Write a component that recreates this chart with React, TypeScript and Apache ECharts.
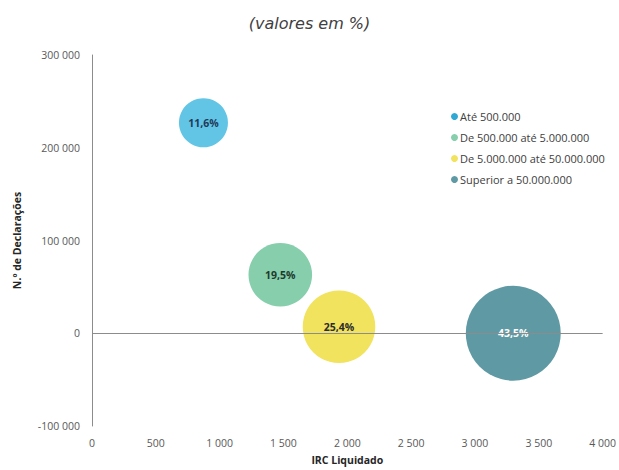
import React, { useEffect, useRef } from "react";
import * as echarts from "echarts";

const seriesNames = [
  "Até 500.000",
  "De 500.000 até 5.000.000",
  "De 5.000.000 até 50.000.000",
  "Superior a 50.000.000",
];
const ircLiquidado = [873, 1475, 1935, 3300];
const nDeclaracoes = [227000, 63000, 7000, 0];
const shares = [11.6, 19.5, 25.4, 43.5];
const bubbleColors = ["#62C5E6", "#86CEAC", "#F1E35E", "#5F9AA4"];
const legendColors = ["#2FA9D4", "#86CEAC", "#F1E35E", "#5F9AA4"];
const labelColors = ["#1F3A5A", "#1E3A2C", "#2B2B2B", "#FFFFFF"];

const fmtNum = (v: number) =>
  String(v).replace(/\B(?=(\d{3})+(?!\d))/g, " ");

export default function App() {
  const ref = useRef<HTMLDivElement>(null);
  useEffect(() => {
    if (!ref.current) return;
    const chart = echarts.init(ref.current, null, { renderer: "svg" });
    const font = "'Open Sans', sans-serif";
    const series: any[] = seriesNames.map((name, i) => ({
      name,
      type: "scatter",
      data: [[ircLiquidado[i], nDeclaracoes[i], shares[i]]],
      symbolSize: (d: number[]) => Math.sqrt(d[2]) * 14.4,
      itemStyle: { color: bubbleColors[i], opacity: 1 },
      z: 2,
      label: {
        show: true,
        position: "inside",
        formatter: (p: any) => String(p.data[2]).replace(".", ",") + "%",
        color: labelColors[i],
        fontWeight: "bold",
        fontSize: 10.5,
        fontFamily: font,
      },
    }));
    series.push({
      name: "zero",
      type: "scatter",
      data: [],
      z: 3,
      silent: true,
      markLine: {
        silent: true,
        symbol: "none",
        label: { show: false },
        lineStyle: { color: "#8C8C8C", width: 1, type: "solid" },
        data: [{ yAxis: 0 }],
        z: 3,
      },
    });
    chart.setOption({
      animation: false,
      backgroundColor: "#ffffff",
      title: {
        text: "(valores em %)",
        left: "center",
        top: 10,
        textStyle: {
          fontStyle: "italic",
          fontWeight: "normal",
          fontSize: 16,
          color: "#404040",
          fontFamily: "'DejaVu Sans', sans-serif",
        },
      },
      legend: {
        orient: "vertical",
        left: 446,
        top: 106,
        itemGap: 10,
        itemWidth: 7,
        itemHeight: 7,
        icon: "circle",
        data: seriesNames.map((n, i) => ({ name: n, itemStyle: { color: legendColors[i] } })),
        textStyle: { fontSize: 11, color: "#404040", fontFamily: font, padding: [0, 0, 0, -3] },
      },
      grid: { left: 92, right: 16, top: 55, bottom: 38, containLabel: false },
      xAxis: {
        type: "value",
        min: 0,
        max: 4000,
        interval: 500,
        name: "IRC Liquidado",
        nameLocation: "middle",
        nameGap: 28,
        nameTextStyle: { fontWeight: "bold", fontSize: 10.5, color: "#262626", fontFamily: font },
        axisLine: { show: false, onZero: false },
        axisTick: { show: false },
        splitLine: { show: false },
        axisLabel: { margin: 11, fontSize: 10.5, color: "#595959", fontFamily: font, formatter: fmtNum },
      },
      yAxis: {
        type: "value",
        min: -100000,
        max: 300000,
        interval: 100000,
        name: "N.º de Declarações",
        nameLocation: "middle",
        nameGap: 70,
        nameTextStyle: { fontWeight: "bold", fontSize: 10.5, color: "#262626", fontFamily: font },
        axisLine: { show: true, onZero: false, lineStyle: { color: "#8C8C8C", width: 1 } },
        axisTick: { show: false },
        splitLine: { show: false },
        axisLabel: { margin: 12, fontSize: 10.5, color: "#595959", fontFamily: font, formatter: fmtNum },
      },
      series,
    });
    return () => chart.dispose();
  }, []);
  return <div ref={ref} style={{ width: 619, height: 470, position: "absolute", left: 0, top: 0 }} />;
}
